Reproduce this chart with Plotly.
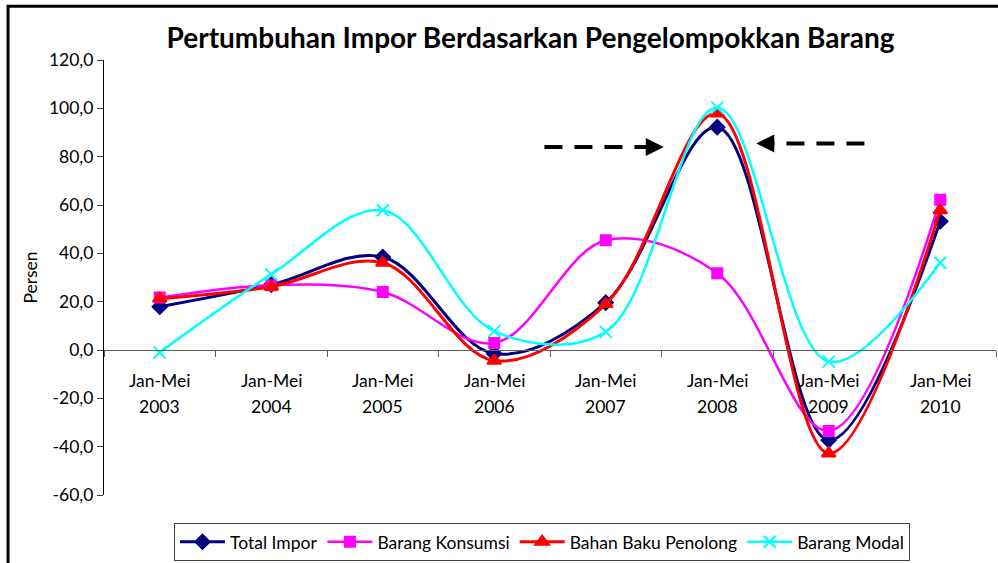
import plotly.graph_objects as go

bulan = "Jan-Mei"
tahun = ["2003", "2004", "2005", "2006", "2007", "2008", "2009", "2010"]

total_impor = [17.9, 27.0, 38.5, -1.5, 19.6, 92.2, -37.3, 53.3]
barang_konsumsi = [21.7, 26.8, 24.0, 2.9, 45.4, 31.8, -33.5, 62.2]
bahan_baku = [21.3, 26.2, 36.1, -4.4, 19.0, 97.9, -42.8, 57.8]
barang_modal = [-1.0, 31.3, 57.8, 7.8, 7.5, 100.3, -4.8, 36.1]

y_ticks = [-60, -40, -20, 0, 20, 40, 60, 80, 100, 120]
y_labels = [f"{v:.1f}".replace(".", ",") for v in y_ticks]

FONT = "Lato, 'Open Sans', sans-serif"
FS = 17.5

fig = go.Figure()

series = [
    ("Total Impor", total_impor, "#000080", "diamond", 11, 3),
    ("Barang Konsumsi", barang_konsumsi, "#ff00ff", "square", 10, 2.5),
    ("Bahan Baku Penolong", bahan_baku, "#ff0000", "triangle-up", 12, 3),
    ("Barang Modal", barang_modal, "#00ffff", "x-thin", 12, 2.5),
]

for name, vals, color, symbol, size, width in series:
    fig.add_trace(go.Scatter(
        x=tahun,
        y=vals,
        name=name,
        mode="lines+markers",
        line=dict(color=color, width=width, shape="spline", smoothing=1.0),
        marker=dict(symbol=symbol, size=size, color=color,
                    line=dict(color=color, width=2)),
    ))

# two-line category labels under the zero axis (category index positions)
for i, t in enumerate(tahun):
    fig.add_annotation(x=i, y=0, xref="x", yref="y", text=bulan,
                       showarrow=False, yanchor="middle", yshift=-30,
                       font=dict(size=FS, family=FONT))
    fig.add_annotation(x=i, y=0, xref="x", yref="y", text=t,
                       showarrow=False, yanchor="middle", yshift=-56,
                       font=dict(size=FS, family=FONT))

# dashed arrows pointing at the 2008 peak
arrows = [
    (3.45, 4.40, 4.52, 84.0),
    (6.32, 5.47, 5.35, 85.5),
]
for x_tail, x_base, x_tip, y_pos in arrows:
    fig.add_shape(type="line", xref="x", yref="y",
                  x0=x_tail, x1=x_base, y0=y_pos, y1=y_pos,
                  line=dict(color="black", width=4, dash="18px,12px"))
    fig.add_annotation(x=x_tip, y=y_pos, xref="x", yref="y",
                       ax=x_base, ay=y_pos, axref="x", ayref="y",
                       text="", showarrow=True, arrowhead=2,
                       arrowsize=0.9, arrowwidth=4, arrowcolor="black")

# outer chart frame
fig.add_shape(type="rect", xref="paper", yref="paper",
              x0=-0.1076, x1=1.2, y0=-0.4, y1=1.1236,
              line=dict(color="black", width=3))

fig.update_layout(
    width=998,
    height=563,
    margin=dict(l=104, r=2, t=60, b=66),
    paper_bgcolor="white",
    plot_bgcolor="white",
    font=dict(family=FONT, size=FS, color="black"),
    title=dict(
        text="<b>Pertumbuhan Impor Berdasarkan Pengelompokkan Barang</b>",
        x=0.5316, xref="container", xanchor="center",
        y=0.9325, yref="container", yanchor="middle",
        font=dict(size=28, family=FONT, color="black"),
    ),
    xaxis=dict(
        type="category",
        anchor="free",
        position=60 / 180,
        showline=True,
        linecolor="#606060",
        linewidth=1,
        ticks="outside",
        tickson="boundaries",
        ticklen=6,
        tickcolor="#606060",
        showticklabels=False,
        showgrid=False,
        zeroline=False,
        range=[-0.5, 7.5],
    ),
    yaxis=dict(
        range=[-60, 120],
        tickvals=y_ticks,
        ticktext=y_labels,
        showline=True,
        linecolor="black",
        linewidth=1,
        ticks="outside",
        ticklen=6,
        showgrid=False,
        zeroline=False,
        tickfont=dict(size=FS, family=FONT),
        title=dict(text="Persen", font=dict(size=FS, family=FONT), standoff=6),
    ),
    legend=dict(
        orientation="h",
        x=0.491, xanchor="center",
        y=-0.064, yanchor="top",
        bordercolor="#404040",
        borderwidth=1,
        itemwidth=45,
        font=dict(size=FS, family=FONT),
    ),
    showlegend=True,
)

fig.write_html("out.html", config={"displayModeBar": False},
               post_script="document.body.style.margin='0';")
